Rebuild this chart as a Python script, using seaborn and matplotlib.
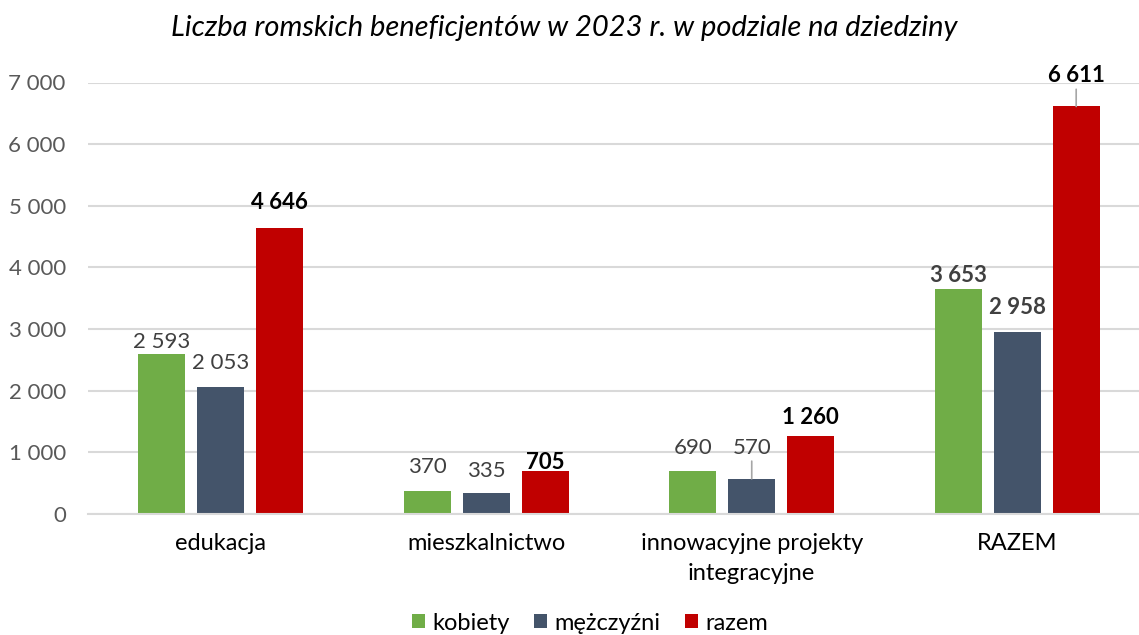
import matplotlib
matplotlib.use("Agg")
import matplotlib.pyplot as plt
import seaborn as sns
import pandas as pd
from matplotlib.patches import Patch

categories = ["edukacja", "mieszkalnictwo", "innowacyjne projekty\nintegracyjne", "RAZEM"]
kobiety = [2593, 370, 690, 3653]
mezczyzni = [2053, 335, 570, 2958]
razem = [4646, 705, 1260, 6611]
series = ["kobiety", "mężczyźni", "razem"]
colors = ["#70AD47", "#44546A", "#C00000"]
yticks = [0, 1000, 2000, 3000, 4000, 5000, 6000, 7000]

def fmt(v):
    return f"{v:,}".replace(",", "\u00a0")

rows = []
for s, vals in zip(series, [kobiety, mezczyzni, razem]):
    for c, v in zip(categories, vals):
        rows.append({"kat": c, "seria": s, "val": v})
df = pd.DataFrame(rows)

sns.set_theme(style="white")
plt.rcParams["font.family"] = ["Lato", "DejaVu Sans"]

fig = plt.figure(figsize=(11.39, 6.35), dpi=100)
ax = fig.add_axes([88/1139, 1 - 514/635, (1139 - 88)/1139, 431.5/635])

sns.barplot(data=df, x="kat", y="val", hue="seria", order=categories,
            hue_order=series, palette=colors, width=0.666, gap=0.203,
            linewidth=0, ax=ax, legend=False, saturation=1)

ax.set_xlim(-0.5, 3.5 - 11/265.8)
ax.set_ylim(0, 7000)
ax.set_yticks(yticks)
ax.set_yticklabels([fmt(v) for v in yticks], fontsize=16, color="#595959")
ax.set_xlabel("")
ax.set_ylabel("")
ax.tick_params(axis="y", length=0, pad=16)
ax.tick_params(axis="x", length=0, pad=14, labelsize=17, labelcolor="#000000")
for lbl in ax.get_xticklabels():
    lbl.set_linespacing(1.5)
ax.yaxis.grid(True, color="#D9D9D9", linewidth=1.5)
ax.set_axisbelow(True)
for sp in ["top", "right", "left"]:
    ax.spines[sp].set_visible(False)
ax.spines["bottom"].set_color("#D9D9D9")
ax.spines["bottom"].set_linewidth(1.5)

# label offsets (pixels above bar top) per series / category
offsets = {
    "kobiety": [12, 24, 23, 13],
    "mężczyźni": [24, 22, 31, 24],
    "razem": [25, 8, 19, 31],
}
leaders = {("mężczyźni", 2), ("razem", 3)}
data_map = {"kobiety": kobiety, "mężczyźni": mezczyzni, "razem": razem}

for s, cont in zip(series, ax.containers):
    for i, p in enumerate(cont.patches):
        xc = p.get_x() + p.get_width() / 2
        h = p.get_height()
        val = data_map[s][i]
        if s == "razem":
            color, weight = "#000000", "bold"
        elif i == 3:
            color, weight = "#404040", "bold"
        else:
            color, weight = "#404040", "normal"
        kw = {}
        if (s, i) in leaders:
            kw["arrowprops"] = dict(arrowstyle="-", color="#A6A6A6", lw=1.2,
                                    shrinkA=0, shrinkB=0)
        ax.annotate(fmt(val), xy=(xc, h), xytext=(0, offsets[s][i] * 0.72),
                    textcoords="offset points", ha="center", va="center",
                    fontsize=16, color=color, fontweight=weight, **kw)

fig.text(564/1139, 1 - 28/635, "Liczba romskich beneficjentów w 2023 r. w podziale na dziedziny",
         ha="center", va="center", fontsize=21, fontstyle="italic", color="#000000")

handles = [Patch(facecolor=c, edgecolor="none") for c in colors]
fig.legend(handles, series, loc="center", bbox_to_anchor=(590/1139, 1 - 623/635),
           ncol=3, frameon=False, fontsize=17, handlelength=0.55, handleheight=0.55,
           handletextpad=0.3, columnspacing=1.05, labelcolor="#000000")

fig.savefig("out.png", dpi=100)
